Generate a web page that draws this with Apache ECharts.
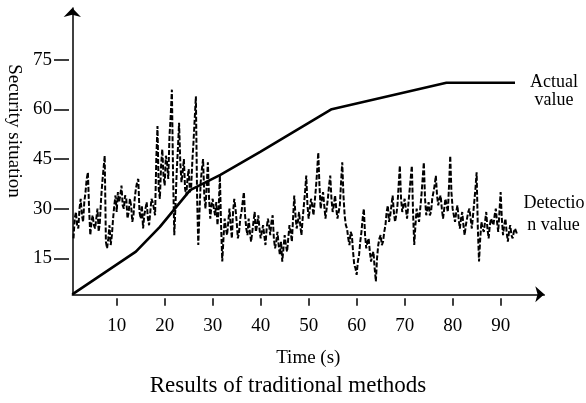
<!DOCTYPE html>
<html>
<head>
<meta charset="utf-8">
<script src="https://cdn.jsdelivr.net/npm/echarts@6/dist/echarts.min.js"></script>
<style>
  html, body { margin: 0; padding: 0; background: #fff; }
  #chart { width: 586px; height: 403px; }
</style>
</head>
<body>
<div id="chart"></div>
<script>
// axis ticks
const xTicks = [10, 20, 30, 40, 50, 60, 70, 80, 90];
const yTicks = [15, 30, 45, 60, 75];

// actual value (solid line)
const actualTime = [0.75, 14, 19, 25.3, 31.6, 39.9, 54.8, 78.7, 93];
const actualValue = [4.1, 17, 24.5, 35.6, 40.2, 47.2, 60.1, 68.1, 68.1];

// detection value, read every 0.25 s starting at t = 1 s
const detectStart = 1;
const detectStep = 0.25;
const detectValue = [
  21, 27, 29, 25, 24, 30, 33, 28, 26, 32, 35, 39, 41, 30, 22, 26, 28, 25,
  24, 27, 30, 23, 26, 33, 38, 42, 46, 20, 18, 21, 25, 19, 22, 27, 31, 34, 29, 35,
  32, 34, 37, 31, 30, 34, 33, 27, 29, 33, 31, 26, 28, 33, 36, 38, 39, 29, 27, 31,
  24, 28, 30, 32, 27, 25, 29, 33, 32, 30, 28, 45, 55, 36, 33, 43, 48, 40, 37, 46,
  44, 39, 52, 58, 66, 40, 22, 31, 41, 48, 56, 44, 38, 41, 45, 36, 34, 39, 42, 35,
  36, 44, 50, 57, 64, 34, 19, 29, 38, 42, 45, 34, 30, 37, 44, 33, 27, 31, 33, 30,
  28, 32, 25, 30, 40, 25, 14, 21, 27, 24, 22, 26, 30, 25, 21, 29, 33, 30, 26, 21,
  23, 27, 29, 32, 35, 28, 24, 22, 27, 23, 20, 23, 26, 29, 23, 25, 28, 24, 21, 23,
  25, 22, 19, 24, 27, 25, 22, 26, 28, 21, 18, 20, 23, 19, 16, 20, 14, 18, 22, 19,
  17, 21, 25, 23, 20, 27, 34, 28, 24, 26, 29, 25, 22, 27, 31, 35, 40, 31, 27, 30,
  33, 31, 28, 32, 36, 41, 47, 37, 30, 33, 35, 31, 27, 30, 33, 37, 40, 33, 29, 31,
  34, 30, 27, 29, 31, 38, 44, 34, 28, 25, 24, 21, 19, 23, 22, 17, 13, 12, 10, 14,
  16, 20, 23, 27, 30, 22, 18, 20, 21, 17, 14, 16, 17, 12, 8, 15, 19, 21, 22, 19,
  20, 23, 25, 29, 31, 26, 28, 31, 34, 29, 26, 28, 31, 37, 43, 33, 29, 31, 33, 30,
  27, 31, 35, 39, 43, 29, 19, 25, 30, 28, 26, 30, 34, 39, 44, 33, 28, 30, 32, 28,
  29, 33, 35, 37, 40, 34, 31, 33, 34, 30, 27, 30, 33, 31, 29, 37, 46, 35, 30, 28,
  26, 29, 31, 27, 24, 27, 29, 25, 22, 25, 27, 29, 30, 27, 24, 28, 32, 36, 41, 24,
  14, 21, 26, 24, 23, 26, 29, 24, 21, 25, 27, 26, 25, 28, 30, 26, 23, 29, 35, 27,
  22, 25, 27, 23, 20, 23, 25, 22, 21, 23, 24, 23, 22
];

const chart = echarts.init(document.getElementById('chart'));

const actualData = actualTime.map((t, i) => [t, actualValue[i]]);
const detectData = detectValue.map((v, i) => [detectStart + i * detectStep, v]);

const fontFamily = '"Liberation Serif", "DejaVu Serif", serif';
const textStyle = (size) => size + 'px ' + fontFamily;

const option = {
  animation: false,
  backgroundColor: '#fff',
  grid: { left: 72.3, right: 41.7, top: 8, bottom: 108.7, outerBoundsMode: 'none', containLabel: false },
  xAxis: [
    {
      type: 'value',
      min: 0.75,
      max: 99.1,
      axisLine: {
        show: true,
        symbol: ['none', 'arrow'],
        symbolSize: [12, 9],
        lineStyle: { color: '#000', width: 1.5 }
      },
      axisTick: { show: false },
      axisLabel: { show: false },
      splitLine: { show: false }
    },
    {
      type: 'value',
      min: 0.75,
      max: 99.1,
      position: 'bottom',
      offset: 4,
      axisLine: { show: false },
      axisTick: {
        show: true,
        length: 7.5,
        customValues: xTicks,
        lineStyle: { color: '#000', width: 1.5 }
      },
      axisLabel: {
        show: true,
        customValues: xTicks,
        margin: 18,
        color: '#000',
        fontFamily: fontFamily,
        fontSize: 19
      },
      splitLine: { show: false },
      name: 'Time (s)',
      nameLocation: 'middle',
      nameGap: 50,
      nameTextStyle: { color: '#000', fontFamily: fontFamily, fontSize: 19 }
    }
  ],
  yAxis: [
    {
      type: 'value',
      min: 4.1,
      max: 90.7,
      axisLine: {
        show: true,
        symbol: ['none', 'arrow'],
        symbolSize: [13, 9],
        lineStyle: { color: '#000', width: 1.5 }
      },
      axisTick: { show: false },
      axisLabel: { show: false },
      splitLine: { show: false }
    },
    {
      type: 'value',
      min: 4.1,
      max: 90.7,
      position: 'left',
      offset: 3.3,
      axisLine: { show: false },
      axisTick: {
        show: true,
        length: 15,
        customValues: yTicks,
        lineStyle: { color: '#000', width: 1.5 }
      },
      axisLabel: {
        show: true,
        customValues: yTicks,
        margin: 17,
        color: '#000',
        fontFamily: fontFamily,
        fontSize: 19
      },
      splitLine: { show: false }
    }
  ],
  graphic: [
    { type: 'text', x: 14, y: 131, rotation: -Math.PI / 2, style: { text: 'Security situation', align: 'center', verticalAlign: 'middle', fill: '#000', font: textStyle(19) } },
    { type: 'text', style: { text: 'Actual', x: 554, y: 82, align: 'center', verticalAlign: 'middle', fill: '#000', font: textStyle(18) } },
    { type: 'text', style: { text: 'value', x: 554, y: 100, align: 'center', verticalAlign: 'middle', fill: '#000', font: textStyle(18) } },
    { type: 'text', style: { text: 'Detectio', x: 523.5, y: 203, align: 'left', verticalAlign: 'middle', fill: '#000', font: textStyle(18) } },
    { type: 'text', style: { text: 'n value', x: 527.3, y: 225, align: 'left', verticalAlign: 'middle', fill: '#000', font: textStyle(18) } },
    { type: 'text', style: { text: 'Results of traditional methods', x: 288, y: 386, align: 'center', verticalAlign: 'middle', fill: '#000', font: textStyle(23) } }
  ],
  series: [
    {
      name: 'Detection value',
      type: 'line',
      xAxisIndex: 0,
      yAxisIndex: 0,
      data: detectData,
      showSymbol: false,
      lineStyle: { color: '#000', width: 2, type: [5, 2] }
    },
    {
      name: 'Actual value',
      type: 'line',
      xAxisIndex: 0,
      yAxisIndex: 0,
      data: actualData,
      showSymbol: false,
      lineStyle: { color: '#000', width: 2.6 }
    }
  ]
};

chart.setOption(option);
</script>
</body>
</html>
